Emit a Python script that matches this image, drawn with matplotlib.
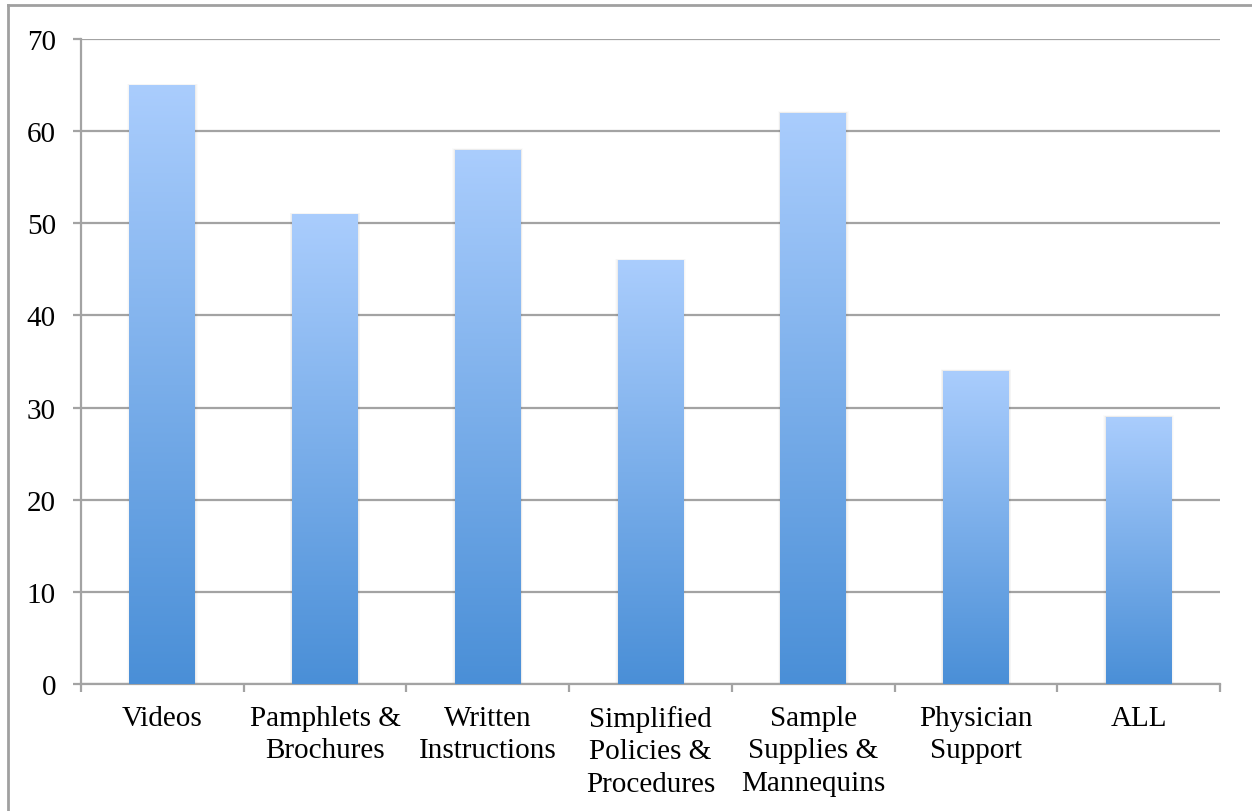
import numpy as np
import matplotlib.pyplot as plt
from matplotlib.colors import LinearSegmentedColormap
from matplotlib.lines import Line2D

# data
categories = ["Videos", "Pamphlets &\nBrochures", "Written\nInstructions",
              "Simplified\nPolicies &\nProcedures", "Sample\nSupplies &\nMannequins",
              "Physician\nSupport", "ALL"]
values = [65, 51, 58, 46, 62, 34, 29]
yticks = [0, 10, 20, 30, 40, 50, 60, 70]

plt.rcParams['font.family'] = ['Liberation Serif', 'DejaVu Serif']

grid_col = "#a3a3a3"
grad = LinearSegmentedColormap.from_list("bar_grad", ["#4a8fd7", "#aacdfd"])

fig = plt.figure(figsize=(12.52, 8.12), dpi=100)
ax = fig.add_axes([81 / 1252, 127 / 812, 1139 / 1252, 645 / 812])

x = np.arange(len(categories))
width = 0.405
bars = ax.bar(x, values, width=width, color="none", edgecolor="none", zorder=3)

# faint drop shadow behind each bar
for b in bars:
    for k, a in enumerate([0.035, 0.025, 0.015]):
        d = 0.01 * (k + 1)
        sh = plt.Rectangle((b.get_x() - d * 0.5, 0), b.get_width() + d, b.get_height() + d * 5,
                           facecolor="#000000", alpha=a, edgecolor="none", zorder=2)
        ax.add_patch(sh)

# vertical gradient fill, light at the top
for b in bars:
    x0, w, h = b.get_x(), b.get_width(), b.get_height()
    img = ax.imshow(np.linspace(0, 1, 256).reshape(-1, 1), cmap=grad, aspect="auto",
                    origin="lower", extent=[x0, x0 + w, 0, h], zorder=3)
    img.set_clip_path(b)

ax.set_xlim(-0.5, len(categories) - 0.5)
ax.set_ylim(0, 70)
ax.set_yticks(yticks)
ax.set_yticklabels([str(v) for v in yticks])
ax.yaxis.grid(True, color=grid_col, linewidth=1.6, zorder=1)
ax.set_axisbelow(True)

ax.set_xticks(x)
ax.set_xticklabels(categories, fontsize=21, linespacing=1.33, va="top")
ax.set_xticks(np.arange(-0.5, len(categories)), minor=True)
ax.tick_params(axis="x", which="major", length=0, pad=15)
ax.tick_params(axis="x", which="minor", length=6, width=1.6, color=grid_col)
ax.tick_params(axis="y", length=6, width=1.6, color=grid_col, labelsize=21, pad=12)

for s in ["top", "right"]:
    ax.spines[s].set_visible(False)
for s in ["left", "bottom"]:
    ax.spines[s].set_color(grid_col)
    ax.spines[s].set_linewidth(1.6)

# outer frame (top and left edges)
fig.add_artist(Line2D([8 / 1252, 1], [1 - 6 / 812, 1 - 6 / 812], color="#a0a0a0", linewidth=2))
fig.add_artist(Line2D([8 / 1252, 8 / 1252], [0, 1 - 6 / 812], color="#a0a0a0", linewidth=2))

fig.savefig("out.png", dpi=100)
